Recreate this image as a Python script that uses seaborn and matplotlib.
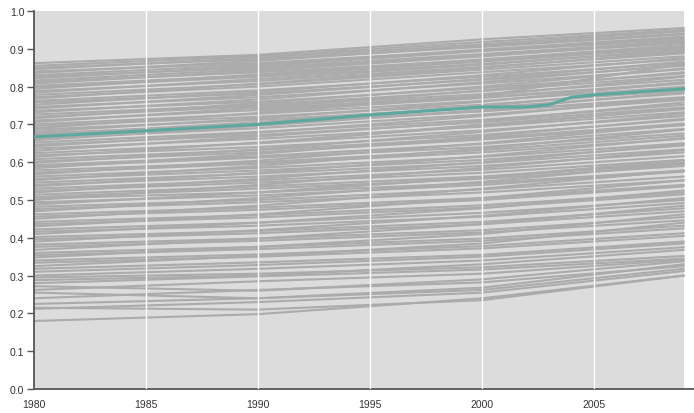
import numpy as np
import pandas as pd
import matplotlib
matplotlib.use("Agg")
import matplotlib.pyplot as plt
import seaborn as sns

nan = np.nan

# years sampled for every grey series
years = [1980, 1990, 2000, 2009]

# grey series: value at 1980, 1990, 2000, 2009
v1980 = [0.862, 0.855, 0.850, 0.846, 0.840, 0.836, 0.830, 0.826, 0.822, 0.816,
         0.812, 0.808, 0.802, 0.798, 0.794, 0.788, 0.784, 0.778, 0.772, 0.768,
         0.762, 0.758, 0.752, 0.746, 0.742, 0.736, 0.732, 0.726, 0.720, 0.716,
         0.710, 0.706, 0.700, 0.696, 0.690, 0.686, 0.680, 0.676, 0.672,
         nan, nan, nan, nan, nan,
         0.662, 0.658, 0.652, 0.646, 0.642, 0.636, 0.630, 0.624, 0.618, 0.614,
         0.608, 0.602, 0.598, 0.592, 0.588, 0.584, 0.578, 0.572, 0.568, 0.562,
         0.556, 0.552, 0.546, 0.540, 0.536, 0.530, 0.524, 0.520, 0.514, 0.508,
         0.504, 0.500,
         0.494, 0.488, 0.482, 0.476, 0.470, 0.462, 0.456, 0.450, 0.442, 0.436,
         0.430, 0.422, 0.416, 0.410, 0.402, 0.396, 0.390, 0.382, 0.376, 0.368,
         0.360, 0.354, 0.348, 0.340, 0.334, 0.325, 0.318, 0.310, 0.300, 0.295,
         0.288, 0.280, 0.272, 0.262, 0.255, 0.240, 0.225, 0.215, 0.212, 0.180]
v1990 = [0.884, 0.880, 0.872, 0.876, 0.862, 0.868, 0.858, 0.850, 0.854, 0.846,
         0.838, 0.842, 0.830, 0.826, 0.832, 0.815, 0.820, 0.806, 0.800, 0.808,
         0.790, 0.782, 0.786, 0.772, 0.778, 0.760, 0.766, 0.752, 0.748, 0.756,
         0.738, 0.744, 0.728, 0.720, 0.730, 0.712, 0.716, 0.700, 0.706,
         0.735, 0.742, 0.705, 0.650, 0.520,
         0.690, 0.696, 0.680, 0.672, 0.678, 0.662, 0.668, 0.650, 0.640, 0.652,
         0.632, 0.626, 0.634, 0.616, 0.612, 0.622, 0.600, 0.596, 0.604, 0.585,
         0.578, 0.590, 0.570, 0.562, 0.572, 0.552, 0.546, 0.556, 0.536, 0.530,
         0.520, 0.540,
         0.512, 0.520, 0.500, 0.494, 0.505, 0.480, 0.474, 0.485, 0.460, 0.454,
         0.462, 0.440, 0.432, 0.440, 0.418, 0.412, 0.420, 0.398, 0.392, 0.398,
         0.376, 0.370, 0.376, 0.356, 0.350, 0.352, 0.335, 0.328, 0.318, 0.305,
         0.300, 0.298, 0.260, 0.285, 0.240, 0.262, 0.240, 0.210, 0.230, 0.198]
v2000 = [0.925, 0.918, 0.905, 0.912, 0.896, 0.908, 0.898, 0.886, 0.894, 0.882,
         0.870, 0.880, 0.866, 0.860, 0.872, 0.852, 0.858, 0.845, 0.838, 0.850,
         0.826, 0.818, 0.830, 0.808, 0.820, 0.796, 0.812, 0.788, 0.780, 0.800,
         0.772, 0.790, 0.762, 0.752, 0.776, 0.744, 0.760, 0.735, 0.748,
         0.770, 0.775, 0.735, 0.700, 0.560,
         0.726, 0.738, 0.712, 0.706, 0.722, 0.694, 0.708, 0.684, 0.672, 0.696,
         0.664, 0.660, 0.680, 0.648, 0.640, 0.668, 0.632, 0.626, 0.650, 0.614,
         0.606, 0.636, 0.598, 0.590, 0.616, 0.580, 0.572, 0.600, 0.562, 0.556,
         0.545, 0.585,
         0.540, 0.560, 0.528, 0.520, 0.548, 0.505, 0.500, 0.530, 0.486, 0.480,
         0.505, 0.466, 0.456, 0.478, 0.442, 0.436, 0.458, 0.420, 0.414, 0.436,
         0.398, 0.392, 0.410, 0.378, 0.372, 0.385, 0.355, 0.350, 0.340, 0.322,
         0.330, 0.316, 0.290, 0.305, 0.268, 0.282, 0.262, 0.235, 0.255, 0.240]
v2009 = [0.955, 0.950, 0.938, 0.946, 0.928, 0.940, 0.932, 0.920, 0.924, 0.915,
         0.905, 0.918, 0.902, 0.895, 0.910, 0.888, 0.898, 0.880, 0.872, 0.892,
         0.862, 0.855, 0.875, 0.846, 0.866, 0.835, 0.858, 0.828, 0.818, 0.848,
         0.810, 0.838, 0.800, 0.790, 0.826, 0.782, 0.812, 0.772, 0.798,
         0.808, 0.860, 0.768, 0.740, 0.600,
         0.765, 0.786, 0.752, 0.745, 0.770, 0.732, 0.758, 0.722, 0.712, 0.742,
         0.702, 0.698, 0.728, 0.688, 0.676, 0.715, 0.670, 0.662, 0.700, 0.650,
         0.644, 0.686, 0.634, 0.626, 0.664, 0.616, 0.606, 0.648, 0.596, 0.590,
         0.578, 0.632,
         0.575, 0.605, 0.562, 0.552, 0.596, 0.540, 0.536, 0.578, 0.520, 0.515,
         0.552, 0.500, 0.492, 0.525, 0.478, 0.470, 0.505, 0.455, 0.446, 0.485,
         0.432, 0.425, 0.462, 0.412, 0.405, 0.440, 0.390, 0.385, 0.375, 0.352,
         0.368, 0.345, 0.338, 0.342, 0.330, 0.325, 0.318, 0.300, 0.312, 0.300]

# highlighted series
hl_years = [1980, 1985, 1990, 1995, 2000, 2002, 2003, 2004, 2005, 2009]
hl_values = [0.667, 0.683, 0.700, 0.725, 0.746, 0.746, 0.752, 0.772, 0.778, 0.794]

rows = []
for i in range(len(v1980)):
    for yr, val in zip(years, [v1980[i], v1990[i], v2000[i], v2009[i]]):
        if not np.isnan(val):
            rows.append({"country": i, "year": yr, "value": val})
df = pd.DataFrame(rows)
df_hl = pd.DataFrame({"year": hl_years, "value": hl_values})

plt.rcParams["font.family"] = ["Liberation Sans", "DejaVu Sans"]
fig = plt.figure(figsize=(6.94, 4.14), dpi=100)
ax = fig.add_axes([34 / 694, 24 / 414, 672 / 694, 378 / 414])
ax.set_facecolor("white")
ax.axvspan(1980, 2009, color="#dcdcdc", zorder=0, lw=0)

sns.lineplot(data=df, x="year", y="value", units="country", estimator=None,
             color="#ababab", lw=1.5, ax=ax, zorder=2)
for yr in [1985, 1990, 1995, 2000, 2005]:
    ax.axvline(yr, color="white", lw=1.0, zorder=3)
sns.lineplot(data=df_hl, x="year", y="value", color="#5ba89f", lw=2.2,
             ax=ax, zorder=4)

ax.set_xlim(1980, 2010)
ax.set_ylim(0, 1.0)
ax.set_yticks(np.arange(0, 1.01, 0.1))
ax.set_yticklabels([f"{t:.1f}" for t in np.arange(0, 1.01, 0.1)])
ax.set_xticks(range(1980, 2011, 5))
ax.tick_params(axis="y", length=5, width=1, color="#555555", labelsize=7.5,
               labelcolor="#333333", pad=2)
ax.tick_params(axis="x", length=0, labelsize=7.5, labelcolor="#333333", pad=7)
ax.set_xlabel("")
ax.set_ylabel("")
for s in ["top", "right"]:
    ax.spines[s].set_visible(False)
for s in ["left", "bottom"]:
    ax.spines[s].set_color("#555555")
    ax.spines[s].set_linewidth(1.3)

fig.savefig("out.png", dpi=100)
